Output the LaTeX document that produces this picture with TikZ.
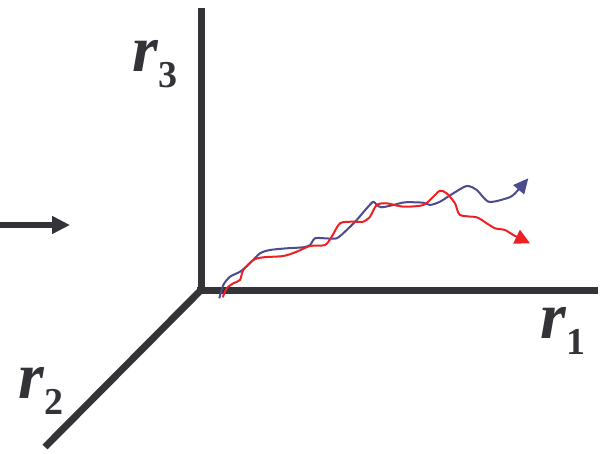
\documentclass[tikz,border=0pt]{standalone}
\usepackage{fontspec}
\setmainfont{Liberation Serif}
\usetikzlibrary{arrows.meta}
\definecolor{axisgray}{HTML}{333338}
\definecolor{pathblue}{HTML}{4B4B8E}
\definecolor{pathred}{HTML}{EE2024}
\newcommand\rlab[1]{{\fontsize{66}{66}\selectfont\bfseries\itshape r}\kern1pt\raisebox{-16pt}{\fontsize{38}{38}\selectfont\bfseries #1}}
\tikzset{
  axis/.style={draw=axisgray, line width=7pt},
  lab/.style={anchor=base west, inner sep=0pt, text=axisgray},
  walk/.style={line width=2pt, line join=round},
}
\begin{document}
\begin{tikzpicture}[x=1pt,y=-1pt]
\useasboundingbox (0,0) rectangle (601,454);
\coordinate (O) at (201,290);
\coordinate (Ytop) at (201,8);
\coordinate (Oleft) at (197,290);
\coordinate (Xend) at (598,290);
\coordinate (Zend) at (45,447);
\coordinate (Astart) at (0,225);
\coordinate (Aend) at (70,225);
\draw[axis] (O) -- (Ytop);
\draw[axis] (Oleft) -- (Xend);
\draw[axis] (O) -- (Zend);
\draw[draw=axisgray, line width=6.5pt, -{Triangle[length=18pt,width=17pt]}] (Astart) -- (Aend);
\node[lab] (r3) at (132,72) {\rlab{3}};
\node[lab] (r1) at (540,338) {\rlab{1}};
\node[lab] (r2) at (18,398) {\rlab{2}};
\draw[walk, draw=pathblue, -{Triangle[length=15pt,width=14pt]}] plot[smooth, tension=0.45] coordinates {
(219.3,298.3) (223.3,285) (230,276.7) (240,271.7) (250,263.3) (260,253.3) (270,250)
(286.7,248.3) (303.3,247.3) (310,245) (315,238.3) (325,238.3) (336.7,238.3)
(346.7,230) (356.7,220) (366.7,208.3) (373.3,201.7) (376.7,205) (381.7,207.3)
(393.3,205) (405,202.3) (423.3,202.7) (430,205) (440,201.7) (453.3,193.3)
(466.7,186) (476.7,190) (488.3,201.7) (503.3,199.3) (513.3,195) (528.3,178.3)};
\draw[walk, draw=pathred, -{Triangle[length=15pt,width=15pt]}] plot[smooth, tension=0.45] coordinates {
(222.7,297.3) (226.7,288.3) (233.3,283.3) (240,280) (243.3,270) (253.3,260)
(263.3,257.3) (283.3,256) (296.7,251.7) (310,246) (325,245) (331.7,236.7)
(340,223.3) (351.7,221.7) (363.3,221.7) (370,216.7) (376.7,205) (386.7,203.3)
(403.3,206.7) (423.3,205) (433.3,196.7) (440,190.7) (446.7,193.3) (455,203.3)
(460,215) (476.7,217.3) (486.7,223.3) (495,228.3) (505,230) (513.3,235) (530,243.3)};
\end{tikzpicture}
\end{document}
